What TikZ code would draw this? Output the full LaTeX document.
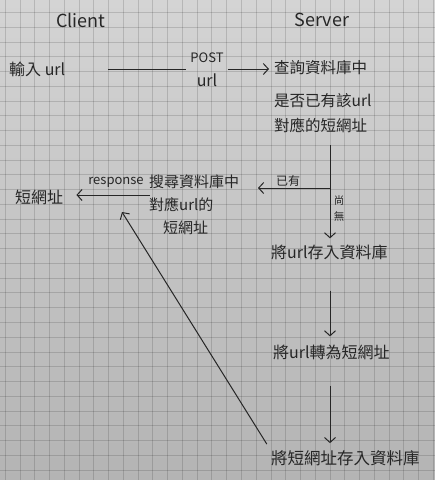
\documentclass[tikz,border=0pt]{standalone}
\usepackage{fontspec}
\setmainfont{Noto Sans CJK TC}
\usetikzlibrary{arrows.meta}
\definecolor{papertop}{HTML}{D4D4D4}
\definecolor{paperbot}{HTML}{B4B4B4}
\definecolor{ink}{HTML}{262626}
\begin{document}
\begin{tikzpicture}[x=1pt,y=-1pt,
  txt/.style={text=ink, font=\fontsize{16}{23}\selectfont, inner sep=1pt},
  head/.style={text=ink, font=\fontsize{18}{20}\selectfont, inner sep=1pt},
  lbl/.style={text=ink, font=\fontsize{12}{14}\selectfont, inner sep=1pt},
  conn/.style={draw=ink, line width=1pt},
  arr/.style={conn, -{Straight Barb[length=5pt,width=11pt]}},
  gridline/.style={draw=black, draw opacity=0.14, line width=0.7pt}]
\shade[top color=papertop, bottom color=paperbot] (0,0) rectangle (435,480);
\useasboundingbox (0,0) rectangle (435,480);
\foreach \i in {0,...,29} { \draw[gridline] ({5.2+\i*14.76},0) -- ({5.2+\i*14.76},480); }
\foreach \j in {0,...,32} { \draw[gridline] (0,{12.4+\j*14.76}) -- (435,{12.4+\j*14.76}); }

% headers
\node[head] (client) at (81,20) {Client};
\node[head] (server) at (322,20) {Server};

% client side
\node[txt, anchor=west] (input) at (8,69) {輸入 url};
\node[txt, anchor=west] (short) at (14,197) {短網址};

% server side
\node[lbl, align=center, font=\fontsize{13}{24}\selectfont] (post) at (207,70) {POST\\{\fontsize{16}{16}\selectfont url}};
\node[txt, anchor=north west, align=left, font=\fontsize{15.5}{25}\selectfont] (query) at (273,59.5) {查詢資料庫中\\[8pt]是否已有該url\\對應的短網址};
\node[txt, anchor=north west, align=left, font=\fontsize{15}{23}\selectfont] (search) at (148,173.5) {搜尋資料庫中\\對應url的\\\hspace*{14pt}短網址};
\node[txt, anchor=west] (store) at (270,252) {將url存入資料庫};
\node[txt, anchor=west] (convert) at (272,352) {將url轉為短網址};
\node[txt, anchor=west, font=\fontsize{16.5}{20}\selectfont] (save) at (270,458) {將短網址存入資料庫};

% labels
\node[lbl] (has) at (288,181) {已有};
\node[lbl, align=center, font=\fontsize{10.5}{16}\selectfont] (none) at (339,209) {尚\\無};
\node[lbl, font=\fontsize{13}{15}\selectfont] (resplbl) at (116,182) {response};

% coordinates
\coordinate (vtop) at (330,145);
\coordinate (fork) at (330,188);
\coordinate (yesend) at (258,188);
\coordinate (resp) at (150,195);
\coordinate (diagend) at (122,212);

% connectors
\draw[conn, shorten <=42pt, shorten >=3pt] (input.east) -- (post.west |- input.east);
\draw[arr, shorten <=3pt, shorten >=4pt] (post.east |- input.east) -- (query.west |- input.east);
\draw[arr, shorten >=5pt] (vtop) -- (store.north -| vtop);
\draw[arr] (fork) -- (yesend);
\draw[arr, shorten <=30pt, shorten >=7pt] (store.south -| vtop) -- (convert.north -| vtop);
\draw[arr, shorten <=25pt, shorten >=6pt] (convert.south -| vtop) -- (save.north -| vtop);
\draw[arr, shorten <=6pt] (save.north west) -- (diagend);
\draw[arr, shorten >=12pt] (resp) -- (short.east |- resp);
\end{tikzpicture}
\end{document}
